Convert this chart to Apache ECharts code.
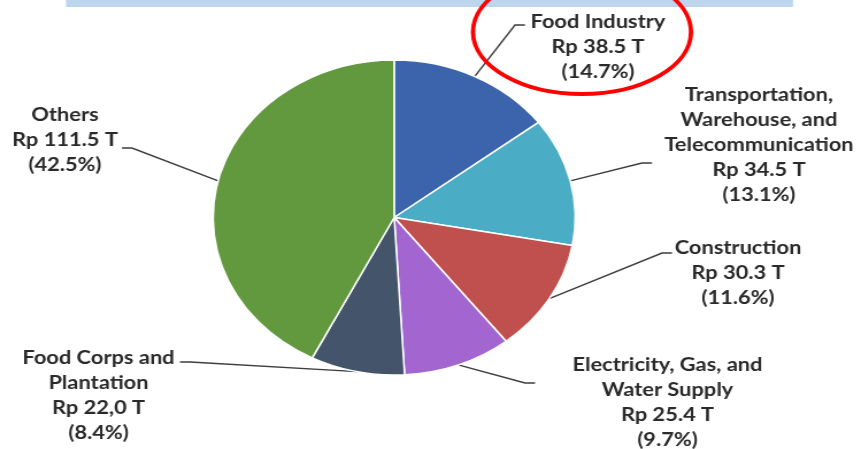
<!DOCTYPE html>
<html>
<head>
<meta charset="utf-8">
<script src="https://cdn.jsdelivr.net/npm/echarts@6/dist/echarts.min.js"></script>
<style>
  html, body { margin: 0; padding: 0; background: #ffffff; overflow: hidden; }
  #wrap { width: 861px; height: 449px; overflow: hidden; position: relative; }
  #chart { width: 749px; height: 449px; transform: scaleX(1.1495); transform-origin: 0 0; }
</style>
</head>
<body>
<div id="wrap"><div id="chart"></div></div>
<script>
// ---- data ----
const categories = [
  'Food Industry',
  'Transportation,\nWarehouse, and\nTelecommunication',
  'Construction',
  'Electricity, Gas, and\nWater Supply',
  'Food Corps and\nPlantation',
  'Others'
];
const values = [38.5, 34.5, 30.3, 25.4, 22.0, 111.5];
const valueText = ['38.5', '34.5', '30.3', '25.4', '22,0', '111.5'];
const percentText = ['14.7%', '13.1%', '11.6%', '9.7%', '8.4%', '42.5%'];

// ---- styles / layout (outside data) ----
const colors = ['#3c64ac', '#4bacc6', '#c0504d', '#a366d1', '#44546a', '#62983e'];
const S = 861 / 749; // horizontal stretch of the picture
// label block centre x, block top y, leader attach point (picture coordinates)
const labelPlace = [
  { x: 598,   top: 9.5,   ax: 525, ay: 25 },
  { x: 759,   top: 82.5,  ax: 652, ay: 163 },
  { x: 738,   top: 235,   ax: 672, ay: 253 },
  { x: 667.5, top: 352.5, ax: 535, ay: 383 },
  { x: 98.5,  top: 345,   ax: 180, ay: 362 },
  { x: 65,    top: 102.5, ax: 122, ay: 148 }
];

const chart = echarts.init(document.getElementById('chart'));
const data = categories.map((c, i) => ({ name: c, value: values[i] }));

chart.setOption({
  animation: false,
  backgroundColor: '#ffffff',
  color: colors,
  graphic: [
    { type: 'rect', shape: { x: 66 / S, y: 0, width: (793 - 66) / S, height: 7 },
      style: { fill: '#bdd6ee' }, z: 1 },
    { type: 'ellipse', shape: { cx: 582 / S, cy: 32, rx: 109 / S, ry: 62 },
      style: { fill: null, stroke: '#ff0000', lineWidth: 3.8 }, z: 100 }
  ],
  series: [{
    type: 'pie',
    center: [394.2 / S, 217.5],
    radius: 157.5,
    startAngle: 90,
    clockwise: true,
    avoidLabelOverlap: false,
    data: data,
    itemStyle: { borderColor: '#ffffff', borderWidth: 1.5 },
    label: {
      show: true,
      position: 'outside',
      bleedMargin: 0,
      formatter: function (p) {
        const i = p.dataIndex;
        const lines = categories[i].split('\n');
        lines.push('Rp ' + valueText[i] + ' T');
        lines.push('(' + percentText[i] + ')');
        return lines.map(l => '{t|' + l + '}').join('\n');
      },
      rich: {
        t: {
          align: 'center',
          fontFamily: 'Lato',
          fontWeight: 'bold',
          fontSize: 19,
          lineHeight: 25,
          color: '#2a2a2a'
        }
      }
    },
    labelLine: {
      show: true,
      length: 20,
      length2: 10,
      lineStyle: { color: '#3d3d3d', width: 1.4 }
    },
    labelLayout: function (params) {
      const lp = labelPlace[params.dataIndex];
      const start = params.labelLinePoints ? params.labelLinePoints[0] : [lp.ax / S, lp.ay];
      const ax = lp.ax / S;
      const dir = lp.ax < lp.x ? -1 : 1;
      const turn = [ax + dir * 10 / S, lp.ay];
      return {
        x: lp.x / S,
        y: lp.top,
        align: 'center',
        verticalAlign: 'top',
        labelLinePoints: [start, turn, [ax, lp.ay]]
      };
    }
  }]
});
</script>
</body>
</html>
